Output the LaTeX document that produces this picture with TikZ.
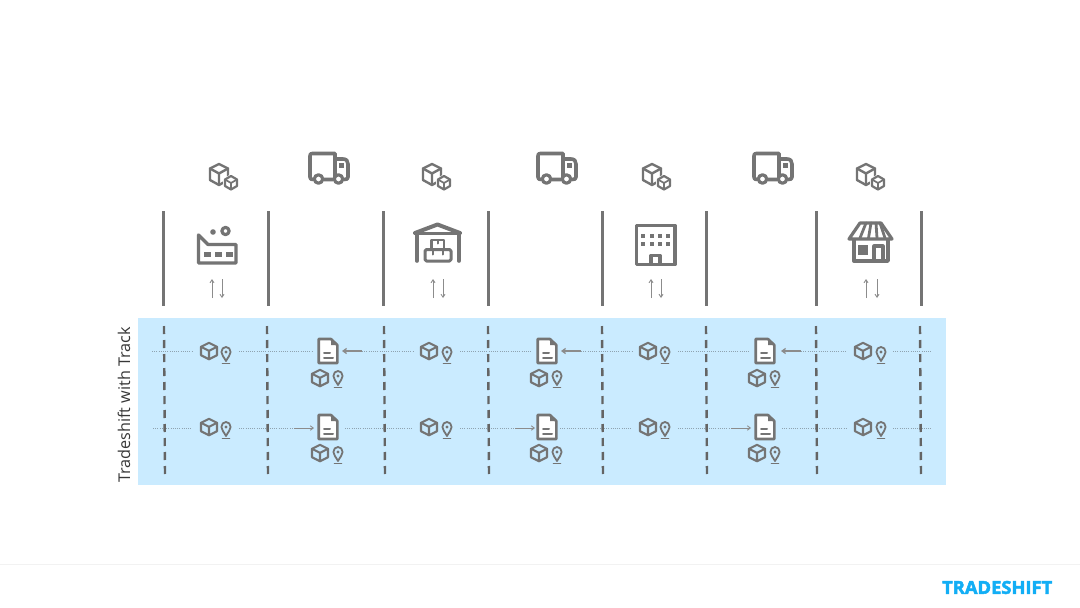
\documentclass[tikz,border=0pt]{standalone}
\usepackage{fontspec}
\setmainfont{Open Sans}
\newfontfamily\logofont[BoldFeatures={FakeBold=2.5}]{Open Sans}
\usetikzlibrary{arrows.meta}
\definecolor{icon}{HTML}{747474}
\definecolor{band}{HTML}{CAEBFF}
\definecolor{dash}{HTML}{646464}
\definecolor{dots}{HTML}{8FA3B0}
\definecolor{arrowc}{HTML}{8C8C8C}
\definecolor{logo}{HTML}{12AEF5}
\tikzset{
  x=1pt,y=-1pt,
  post/.style={draw=icon,line width=3pt},
  dashpost/.style={draw=dash,line width=2.4pt,dash pattern=on 8pt off 6pt},
  dotline/.style={draw=dots,line width=.9pt,dash pattern=on 1pt off 1.2pt},
  flowarrow/.style={draw=arrowc,line width=1.3pt,-{Straight Barb[length=3.5pt,width=5pt]}},
  flowthin/.style={draw=arrowc,line width=.9pt,-{Straight Barb[length=3pt,width=4.5pt]}},
  vertarrow/.style={draw=arrowc,line width=.9pt,-{Straight Barb[length=3pt,width=4pt]}},
  ic/.style={draw=icon,line width=2.4pt,line join=round,line cap=round},
  ict/.style={draw=icon,line width=3.2pt,line join=round,line cap=round},
  cubeicon/.pic={
    \draw[ic,line width=2.1pt] (0,-8.2)--(8,-4.2)--(8,4.2)--(0,8.2)--(-8,4.2)--(-8,-4.2)--cycle;
    \draw[ic,line width=2.1pt] (-8,-4.2)--(0,-.2)--(8,-4.2) (0,-.2)--(0,8.2);
  },
  pinicon/.pic={
    \draw[ic,line width=1.8pt] (0,10) .. controls (-2,6) and (-4.6,4) .. (-4.6,1) .. controls (-4.6,-2) and (-2.5,-4) .. (0,-4) .. controls (2.5,-4) and (4.6,-2) .. (4.6,1) .. controls (4.6,4) and (2,6) .. cycle;
    \fill[icon] (0,1) circle[radius=1.6];
    \draw[ic,line width=1.6pt] (-3.5,12.5)--(3.5,12.5);
  },
  docicon/.pic={
    \draw[ict,line width=2.6pt,fill=white] (-9.3,-12)--(3,-12)--(9.3,-6)--(9.3,12)--(-9.3,12)--cycle;
    \fill[icon] (3,-12)--(9.3,-6)--(3,-6)--cycle;
    \draw[ic,line width=2pt] (-4,2)--(2,2) (-4,7)--(5,7);
  },
  boxesicon/.pic={
    \draw[ic] (-4,-11)--(5,-6.5)--(5,5)--(-4,10)--(-13,5)--(-13,-6.5)--cycle;
    \draw[ic] (-13,-6.5)--(-4,-1.5)--(5,-6.5) (-4,-1.5)--(-4,10);
    \fill[white] (8,-1)--(16,4)--(16,12)--(8,17)--(0,12)--(0,4)--cycle;
    \draw[ic,line width=2.2pt] (8,1)--(14,4.5)--(14,11)--(8,14.5)--(2,11)--(2,4.5)--cycle;
    \draw[ic,line width=1.7pt] (2,4.5)--(8,8)--(14,4.5) (8,8)--(8,14.5);
  },
  truckicon/.pic={
    \draw[ict,line width=3.6pt] (-5,11.5)--(4,11.5) (6,11.5)--(6,-14.5)--(-16.5,-14.5) .. controls (-18.5,-14.5) and (-19,-14) .. (-19,-12) -- (-19,9) .. controls (-19,11) and (-18,11.5) .. (-16,11.5);
    \draw[ict,line width=3.6pt] (6,-9)--(14,-9) .. controls (17.5,-9) and (19,-7) .. (19,-4)--(19,9) .. controls (19,11) and (18,11.5) .. (15,11.5);
    \fill[icon] (9.5,-5.5) rectangle (14.5,-.5);
    \filldraw[ict,fill=white,line width=3.2pt] (-10.5,11) circle[radius=4.2];
    \filldraw[ict,fill=white,line width=3.2pt] (9.5,11) circle[radius=4.2];
  },
}
\begin{document}
\begin{tikzpicture}
\useasboundingbox (0,0) rectangle (1080,608);
\fill[white] (0,0) rectangle (1080,608);

% band
\fill[band] (138,318) rectangle (946,485);
\node[rotate=90,text=black!78,font=\fontsize{16.2}{18}\selectfont,inner sep=0pt] (lbl) at (124,405) {Tradeshift with Track};

% solid posts
\foreach \x in {163,268,383,488,602,706,816,921}{
  \coordinate (pt\x) at (\x,211); \coordinate (pb\x) at (\x,306);
  \draw[post] (pt\x)--(pb\x);
}
% dotted lines
\foreach \a/\b/\y in {152/192/351,239/312/351,362/413/351,460/531/351,581/632/351,678/749/351,801/847/351,893/932/351,
  153/192/428,239/294/428,345/413/428,460/515/428,560/632/428,678/731/428,782/847/428,893/932/428}{
  \coordinate (ds\a\y) at (\a,\y); \coordinate (de\a\y) at (\b,\y);
  \draw[dotline] (ds\a\y)--(de\a\y);
}
% dashed posts
\foreach \x/\z in {164/165,267/268,384/385,488/489,602/603,706/707,816/817,920/921}{
  \coordinate (dt\x) at (\x,326); \coordinate (db\x) at (\z,476);
  \draw[dashpost] (dt\x)--(db\x);
}
% flow arrows
\foreach \a/\b in {362/342,581/561,801/781}{
  \coordinate (fs\a) at (\a,351); \coordinate (fe\a) at (\b,351);
  \draw[flowarrow] (fs\a)--(fe\a);
}
\foreach \a/\b in {294/314,515/535,731/751}{
  \coordinate (fs\a) at (\a,428); \coordinate (fe\a) at (\b,428);
  \draw[flowthin] (fs\a)--(fe\a);
}
% vertical arrows
\foreach \u/\d in {212/222,433/443,651/661,866/877}{
  \coordinate (ub\u) at (\u,298); \coordinate (ut\u) at (\u,279);
  \coordinate (vt\d) at (\d,279); \coordinate (vb\d) at (\d,298);
  \draw[vertarrow] (ub\u)--(ut\u);
  \draw[vertarrow] (vt\d)--(vb\d);
}
% top icons
\foreach \x/\y in {223/175,436/175,656/175,870/175}{ \pic at (\x,\y) {boxesicon}; }
\foreach \x in {329,557,773}{ \pic at (\x,168) {truckicon}; }

% row icons
\foreach \c/\p/\ya/\yb in {209/226/351/351,429/447/351/351,648/665/351/351,863/881/351/351,
  320/338/378/375,539/557/378/375,757/775/378/375,
  209/226/427/426,429/447/427/426,648/665/427/426,863/881/427/426,
  320/338/453/451,539/557/453/451,757/775/453/451}{
  \pic at (\c,\ya) {cubeicon};
  \pic at (\p,\yb) {pinicon};
}
\foreach \y in {351,427}{
  \foreach \x in {328,547,765}{ \pic at (\x,\y) {docicon}; }
}

% factory
\draw[ict,line width=3.4pt] (198.5,263)--(198.5,235)--(208,244.5)--(236,244.5)--(236,263)--cycle;
\foreach \x in {204,215,226}{ \fill[icon] (\x,252) rectangle +(7,4.5); }
\draw[ict,line width=3.2pt] (225.5,231) circle[radius=3.6];
\fill[icon] (213,232) circle[radius=2.8];

% warehouse
\draw[ict,line width=4pt] (415,233)--(437.5,224.5)--(460,233);
\draw[ict,line width=3pt] (416,233)--(459,233);
\draw[ict,line width=3.6pt] (417,233)--(417,261) (459,233)--(459,261);
\draw[ict,line width=3pt,rounded corners=1.5pt] (425,249.5) rectangle (451,261);
\draw[ict,line width=2.8pt] (431.5,240) rectangle (444,249.5);
\draw[ic,line width=2pt] (433,249.5)--(433,254.5) (443,249.5)--(443,254.5) (437.5,240)--(437.5,243.5);

% office
\draw[ict,line width=3.6pt] (636.5,225.5) rectangle (675,264.5);
\foreach \x in {641,650,658,666}{\foreach \y in {234,242}{ \fill[icon] (\x,\y) rectangle +(4.2,4.2); }}
\draw[ict,line width=3.4pt] (651,264)--(651,255.5)--(660,255.5)--(660,264);

% shop
\draw[ict] (860,223)--(881,223)--(892,239)--(849,239)--cycle;
\foreach \a/\b in {866/860,871/868.5,876/877,880/885}{ \coordinate (sa\a) at (\a,223); \coordinate (sb\a) at (\b,238); \draw[ic,line width=2.8pt] (sa\a)--(sb\a); }
\draw[ict,line width=3.4pt] (854,240)--(854,261)--(888,261)--(888,240);
\fill[icon] (858,245) rectangle (868,255);
\draw[ict] (874,261)--(874,246)--(883,246)--(883,261);

% footer
\coordinate (fl) at (0,564); \coordinate (fr) at (1080,564);
\draw[black!5,line width=.8pt] (fl)--(fr);
\node[anchor=west,inner sep=0pt,text=logo] (brand) at (942,587.5)
  {\resizebox{110pt}{13pt}{\fontsize{14}{14}\logofont\bfseries TRADESHIFT}};
\end{tikzpicture}
\end{document}
